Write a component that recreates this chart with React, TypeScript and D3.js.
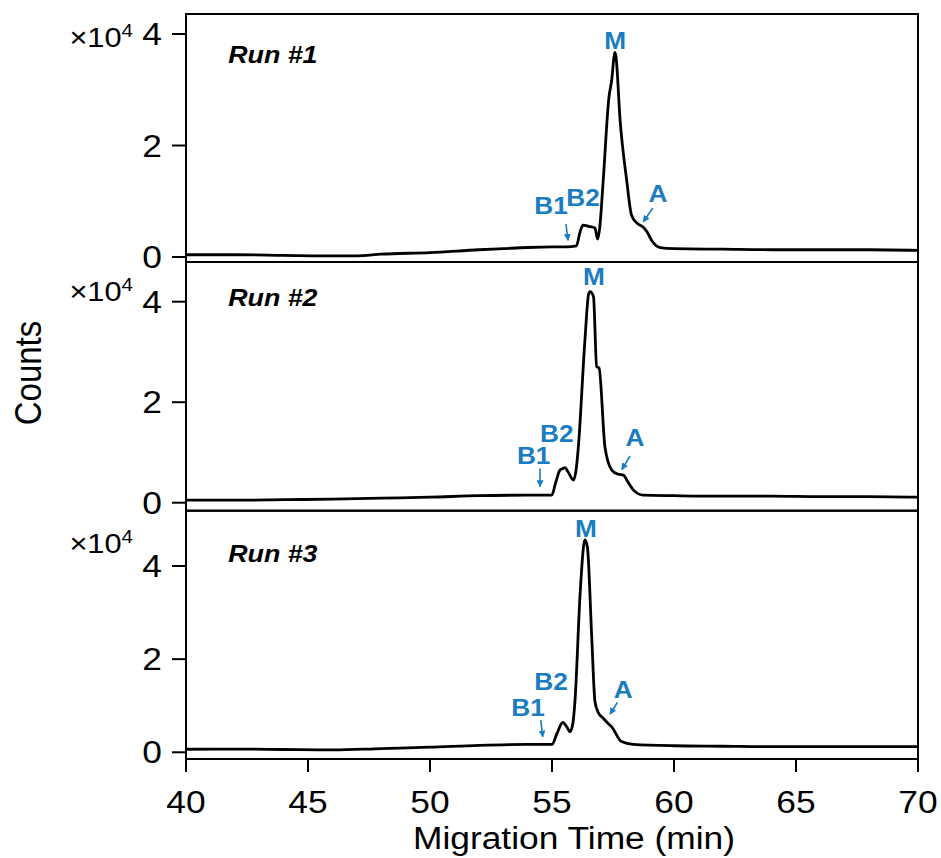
import React from "react";
import * as d3 from "d3";

// ---- data (values in units of 10^4 counts, time in min) ----
const run1Time = [40, 42, 44, 46, 47, 48, 50, 52, 53, 54, 55, 55.6, 56.0, 56.15, 56.27, 56.5, 56.76, 56.87, 56.95, 57.1, 57.33, 57.44, 57.58, 57.62, 57.79, 58.06, 58.26, 58.5, 58.73, 58.9, 59.08, 59.43, 60, 62, 64, 66, 68, 70];
const run1Value = [0.04, 0.04, 0.03, 0.02, 0.02, 0.05, 0.08, 0.13, 0.15, 0.17, 0.18, 0.18, 0.2, 0.45, 0.57, 0.55, 0.52, 0.32, 0.5, 1.38, 2.85, 3.15, 3.67, 3.6, 2.46, 1.38, 0.75, 0.6, 0.54, 0.45, 0.3, 0.17, 0.15, 0.14, 0.13, 0.13, 0.13, 0.12];

const run2Time = [40, 42, 44, 46, 48, 50, 52, 54, 54.99, 55.15, 55.33, 55.45, 55.53, 55.65, 55.88, 56.0, 56.08, 56.35, 56.5, 56.56, 56.7, 56.83, 56.93, 57.17, 57.45, 57.7, 57.93, 58.1, 58.34, 58.74, 60, 62, 64, 66, 68, 70];
const run2Value = [0.05, 0.05, 0.06, 0.07, 0.09, 0.11, 0.14, 0.15, 0.15, 0.4, 0.65, 0.68, 0.7, 0.62, 0.45, 0.7, 1.11, 3.24, 4.15, 4.2, 4.1, 2.71, 2.68, 1.11, 0.65, 0.57, 0.55, 0.42, 0.25, 0.15, 0.14, 0.13, 0.13, 0.12, 0.12, 0.11];

const run3Time = [40, 42, 44, 46, 48, 50, 52, 54, 55.0, 55.2, 55.44, 55.6, 55.74, 55.85, 55.94, 56.15, 56.3, 56.35, 56.45, 56.63, 56.76, 56.9, 57.1, 57.3, 57.44, 57.85, 58.33, 60, 62, 64, 66, 68, 70];
const run3Value = [0.065, 0.07, 0.06, 0.05, 0.08, 0.11, 0.15, 0.17, 0.17, 0.4, 0.64, 0.55, 0.44, 0.6, 1.09, 3.38, 4.45, 4.56, 4.41, 2.45, 1.09, 0.85, 0.73, 0.62, 0.55, 0.23, 0.17, 0.14, 0.13, 0.12, 0.12, 0.12, 0.12];

const runNames = ["Run #1", "Run #2", "Run #3"];
const xTicks = [40, 45, 50, 55, 60, 65, 70];
const yTicks = [0, 2, 4];
const yDomains: [number, number][] = [[-0.0897, 4.359], [-0.159, 4.79], [-0.144, 5.187]];

// peak labels: [label, time, value] per run
const peakLabels = [
  [["M", 57.59, 3.88], ["B1", 54.96, 0.915], ["B2", 56.27, 1.06], ["A", 59.34, 1.13]],
  [["M", 56.72, 4.5], ["B1", 54.25, 0.94], ["B2", 55.2, 1.37], ["A", 58.4, 1.29]],
  [["M", 56.39, 4.81], ["B1", 54.02, 0.95], ["B2", 54.96, 1.51], ["A", 57.92, 1.34]],
] as [string, number, number][][];

// arrows: [t0, v0, t1, v1]
const arrows = [
  [[55.57, 0.59, 55.66, 0.3], [59.13, 0.88, 58.74, 0.63]],
  [[54.51, 0.68, 54.51, 0.32], [58.2, 0.93, 57.86, 0.66]],
  [[54.54, 0.69, 54.62, 0.33], [57.68, 1.07, 57.38, 0.82]],
];

// label anchors (value units) for "Run #" and "x10^4"
const runLabelPos = [[41.73, 3.48], [41.73, 3.91], [41.73, 4.08]];
const multLabelValue = [3.77, 4.01, 4.28];

const runs = [
  { t: run1Time, v: run1Value },
  { t: run2Time, v: run2Value },
  { t: run3Time, v: run3Value },
];

const W = 941;
const H = 858;
const left = 186;
const right = 918;
const panelBounds: [number, number][] = [[14, 262], [262, 510.7], [510.7, 759]];
const blue = "#1a7cc1";
const font = "'Liberation Sans', Arial, sans-serif";
const SX = 1.14;

function SText(props: any) {
  const { x, y, children, ...rest } = props;
  return (
    <text transform={`translate(${x},${y}) scale(${SX},1)`} {...rest}>
      {children}
    </text>
  );
}

export default function App() {
  const x = d3.scaleLinear().domain([40, 70]).range([left, right]);
  const bottom = panelBounds[2][1];

  return (
    <svg width={W} height={H} style={{ position: "absolute", left: 0, top: 0, background: "#fff" }} fontFamily={font}>
      <defs>
        <marker id="ah" viewBox="0 0 10 10" refX="9" refY="5" markerWidth="7" markerHeight="7" orient="auto" markerUnits="userSpaceOnUse">
          <path d="M0,0 L10,5 L0,10 z" fill={blue} />
        </marker>
      </defs>
      {runs.map((r, i) => {
        const [top, bot] = panelBounds[i];
        const y = d3.scaleLinear().domain(yDomains[i]).range([bot, top]);
        const pts = r.t.map((t, k) => [t, r.v[k]] as [number, number]);
        const line = d3.line<[number, number]>().x((d) => x(d[0])).y((d) => y(d[1])).curve(d3.curveMonotoneX);
        return (
          <g key={i}>
            <path d={line(pts) || ""} fill="none" stroke="#000" strokeWidth={2.8} strokeLinejoin="round" />
            <rect x={left} y={top} width={right - left} height={bot - top} fill="none" stroke="#000" strokeWidth={2} />
            {yTicks.map((tk) => (
              <g key={tk}>
                <line x1={left - 14} x2={left} y1={y(tk)} y2={y(tk)} stroke="#000" strokeWidth={2} />
                <SText x={162} y={y(tk)} dy="0.36em" textAnchor="end" fontSize={31}>{tk}</SText>
              </g>
            ))}
            <SText x={133} y={y(multLabelValue[i])} textAnchor="end" fontSize={27}>
              ×10<tspan fontSize={18} dy={-10}>4</tspan>
            </SText>
            <SText x={x(runLabelPos[i][0])} y={y(runLabelPos[i][1])} fontSize={23.5} fontWeight="bold" fontStyle="italic">{runNames[i]}</SText>
            {peakLabels[i].map(([lab, t, v]) => (
              <SText key={lab} x={x(t)} y={y(v)} dy="0.36em" textAnchor="middle" fontSize={23} fontWeight="bold" fill={blue}>{lab}</SText>
            ))}
            {arrows[i].map((a, k) => (
              <line key={k} x1={x(a[0])} y1={y(a[1])} x2={x(a[2])} y2={y(a[3])} stroke={blue} strokeWidth={1.6} markerEnd="url(#ah)" />
            ))}
          </g>
        );
      })}
      <line x1={left} x2={left} y1={panelBounds[0][0]} y2={bottom + 13} stroke="#000" strokeWidth={2} />
      <line x1={right} x2={right} y1={panelBounds[0][0]} y2={bottom + 13} stroke="#000" strokeWidth={2} />
      {xTicks.map((tk) => (
        <g key={tk}>
          <line x1={x(tk)} x2={x(tk)} y1={bottom} y2={bottom + 13} stroke="#000" strokeWidth={2} />
          <SText x={x(tk)} y={813} textAnchor="middle" fontSize={31}>{tk}</SText>
        </g>
      ))}
      <SText x={574} y={849} textAnchor="middle" fontSize={31}>Migration Time (min)</SText>
      <text transform={`translate(41,373) rotate(-90) scale(1,${SX})`} textAnchor="middle" fontSize={33}>Counts</text>
    </svg>
  );
}
